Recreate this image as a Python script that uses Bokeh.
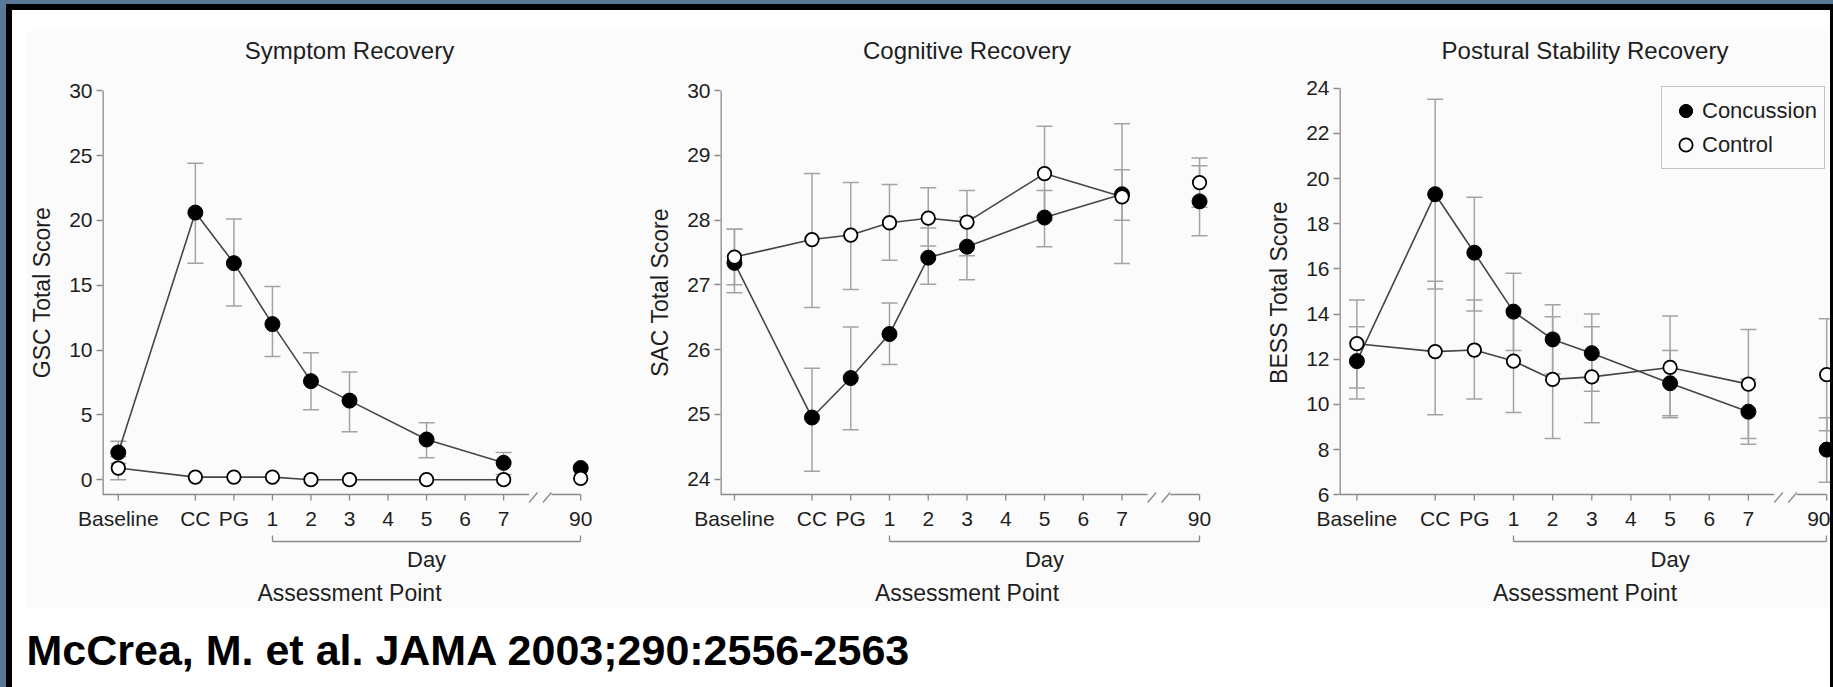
from bokeh.plotting import figure
from bokeh.models import (Range1d, LinearAxis, FixedTicker, Whisker, TeeHead, ColumnDataSource,
                          Legend, LegendItem, Spacer)
from bokeh.layouts import row, column
from bokeh.core.properties import value
from bokeh.embed import file_html
from bokeh.resources import INLINE

# ---------------- data ----------------
tick_labels = ["Baseline", "CC", "PG", "1", "2", "3", "4", "5", "6", "7", "90"]
assessments = ["Baseline", "CC", "PG", "1", "2", "3", "5", "7", "90"]

# Symptom recovery (GSC total score)
gsc_con    = [2.1, 20.6, 16.7, 12.0, 7.6, 6.1, 3.1, 1.3, 0.9]
gsc_con_lo = [1.24, 16.7, 13.4, 9.5, 5.4, 3.7, 1.7, 0.4, None]
gsc_con_hi = [2.96, 24.4, 20.1, 14.9, 9.8, 8.3, 4.4, 2.1, None]
gsc_ctl    = [0.9, 0.2, 0.2, 0.2, 0.0, 0.0, 0.0, 0.0, 0.1]
gsc_ctl_lo = [0.0, None, None, None, None, None, None, None, None]
gsc_ctl_hi = [1.76, None, None, None, None, None, None, None, None]

# Cognitive recovery (SAC total score)
sac_con    = [27.34, 24.95, 25.56, 26.24, 27.42, 27.59, 28.04, 28.40, 28.29]
sac_con_lo = [26.88, 24.12, 24.76, 25.77, 27.01, 27.08, 27.59, 28.00, 27.76]
sac_con_hi = [27.86, 25.71, 26.35, 26.72, 27.88, 28.05, 28.46, 28.78, 28.84]
sac_ctl    = [27.43, 27.70, 27.77, 27.96, 28.03, 27.97, 28.72, 28.36, 28.58]
sac_ctl_lo = [27.00, 26.65, 26.93, 27.38, 27.60, 27.45, 28.00, 27.33, 28.20]
sac_ctl_hi = [27.86, 28.72, 28.58, 28.55, 28.50, 28.46, 29.45, 29.49, 28.96]

# Postural stability recovery (BESS total score)
bess_con    = [11.92, 19.31, 16.72, 14.11, 12.88, 12.27, 10.94, 9.68, 8.00]
bess_con_lo = [10.24, 15.11, 14.14, 12.39, 11.35, 10.59, 9.50, 8.24, 6.56]
bess_con_hi = [13.44, 23.51, 19.17, 15.81, 14.41, 14.00, 12.39, 11.12, 9.41]
bess_ctl    = [12.69, 12.34, 12.41, 11.92, 11.11, 11.22, 11.64, 10.90, 11.32]
bess_ctl_lo = [10.73, 9.54, 10.24, 9.64, 8.49, 9.19, 9.41, 8.49, 8.84]
bess_ctl_hi = [14.63, 15.46, 14.63, 14.20, 13.88, 13.44, 13.92, 13.32, 13.79]

gsc_ticks = [0, 5, 10, 15, 20, 25, 30]
sac_ticks = [24, 25, 26, 27, 28, 29, 30]
bess_ticks = [6, 8, 10, 12, 14, 16, 18, 20, 22, 24]

CITATION = "McCrea, M. et al. JAMA 2003;290:2556-2563"

# ---------------- scale of the broken x axis ----------------
slot_of = {"Baseline": 0, "CC": 2, "PG": 3, "1": 4, "2": 5, "3": 6, "4": 7,
           "5": 8, "6": 9, "7": 10, "90": 12}
tick_pos = [slot_of[t] for t in tick_labels]
first_day, last_day = slot_of["1"], slot_of["90"]

# ---------------- styles ----------------
FONT = "Liberation Sans"
BG = "#fbfbfb"
TXT = "#1e1e1e"
AX = "#8a8a8a"
ERR = "#a3a3a3"
LINE = "#454545"
BLUE = "#587894"
H = 578          # panel canvas height
FRAME_H = 424    # frame height
MB_TOP = 50


def label_axis(text, size, standoff):
    """An axis without line or ticks that only carries a centred label."""
    return LinearAxis(ticker=FixedTicker(ticks=[]), bounds=(tick_pos[0], tick_pos[-1]),
                      axis_line_color=None, major_tick_in=0, major_tick_out=0,
                      major_tick_line_color=None, minor_tick_line_color=None,
                      major_label_standoff=0, axis_label=text,
                      axis_label_standoff=standoff, axis_label_text_font=FONT,
                      axis_label_text_font_size=size, axis_label_text_font_style="normal",
                      axis_label_text_color=TXT)


def make_panel(title, ylabel, yticks, con, con_lo, con_hi, ctl, ctl_lo, ctl_hi, g, legend=None):
    p = figure(width=g["w"], height=H, title=None,
               x_range=Range1d(g["x0"], g["x1"]), y_range=Range1d(g["y0"], g["y1"]),
               x_axis_type=None, y_axis_type=None, toolbar_location=None, output_backend="svg",
               min_border_left=g["ml"], min_border_right=g["mr"],
               min_border_top=MB_TOP, min_border_bottom=H - MB_TOP - FRAME_H,
               background_fill_color=BG, border_fill_color=BG, outline_line_color=None)
    ppy = (g["y1"] - g["y0"]) / FRAME_H
    y_line = g["y0"] + 10 * ppy

    # panel title (centred over Baseline..90)
    p.add_layout(label_axis(title, "24px", 17), "above")

    # y axis (ticks + labels); its line drawn below as a glyph
    ya = LinearAxis(ticker=FixedTicker(ticks=yticks), bounds=(yticks[0], yticks[-1]),
                    axis_line_color=None, major_tick_out=6, major_tick_in=0,
                    major_tick_line_color=AX, major_tick_line_width=1.3,
                    minor_tick_line_color=None, major_label_standoff=4,
                    major_label_text_font=FONT, major_label_text_font_size="21px",
                    major_label_text_color=TXT,
                    axis_label=ylabel, axis_label_standoff=11, axis_label_text_font=FONT,
                    axis_label_text_font_size="23px", axis_label_text_font_style="normal",
                    axis_label_text_color=TXT)
    p.add_layout(ya, "left")

    # x axis tick labels
    xa = LinearAxis(ticker=FixedTicker(ticks=tick_pos),
                    major_label_overrides={pos: lab for pos, lab in zip(tick_pos, tick_labels)},
                    axis_line_color=None, major_tick_out=0, major_tick_in=0,
                    major_tick_line_color=None, minor_tick_line_color=None,
                    major_label_standoff=2, major_label_text_font=FONT,
                    major_label_text_font_size="21px", major_label_text_color=TXT,
                    axis_label=" ", axis_label_text_font_size="4px", axis_label_standoff=1)
    p.add_layout(xa, "below")

    # "Day" bracket
    mid = (first_day + last_day) / 2
    da = LinearAxis(ticker=FixedTicker(ticks=[mid], minor_ticks=[first_day, last_day]),
                    bounds=(first_day, last_day), major_label_overrides={mid: "Day"},
                    axis_line_color=AX, axis_line_width=1.3,
                    major_tick_in=0, major_tick_out=0, major_tick_line_color=None,
                    minor_tick_in=6, minor_tick_out=0, minor_tick_line_color=AX,
                    minor_tick_line_width=1.3, major_label_standoff=5,
                    major_label_text_font=FONT, major_label_text_font_size="22px",
                    major_label_text_color=TXT)
    p.add_layout(da, "below")

    # "Assessment Point"
    p.add_layout(label_axis("Assessment Point", "23px", 5), "below")

    # axis lines, ticks and the break marks
    b1, s1a, s1b, s2a, s2b = 10.66, 10.66, 10.88, 11.02, 11.24
    p.segment(x0=[g["x0"]], y0=[y_line], x1=[g["x0"]], y1=[yticks[-1]],
              line_color=AX, line_width=2.6)
    p.segment(x0=[g["x0"], s2b], y0=[y_line, y_line], x1=[b1, tick_pos[-1]], y1=[y_line, y_line],
              line_color=AX, line_width=1.3)
    p.segment(x0=tick_pos, y0=[y_line] * len(tick_pos), x1=tick_pos,
              y1=[y_line - 6 * ppy] * len(tick_pos), line_color=AX, line_width=1.3)
    p.segment(x0=[s1a, s2a], y0=[y_line - 8 * ppy] * 2, x1=[s1b, s2b], y1=[y_line + 2 * ppy] * 2,
              line_color=AX, line_width=1.3)

    xs = [slot_of[a] for a in assessments]

    # error bars
    for lo, hi in ((con_lo, con_hi), (ctl_lo, ctl_hi)):
        idx = [i for i in range(len(xs)) if lo[i] is not None]
        if not idx:
            continue
        src = ColumnDataSource(dict(x=[xs[i] for i in idx], lo=[lo[i] for i in idx],
                                    hi=[hi[i] for i in idx]))
        w = Whisker(source=src, base="x", lower="lo", upper="hi", dimension="height",
                    line_color=ERR, line_width=1.5, level="underlay",
                    upper_head=TeeHead(size=16, line_color=ERR, line_width=1.5),
                    lower_head=TeeHead(size=16, line_color=ERR, line_width=1.5))
        p.add_layout(w)

    # lines (not across the axis break)
    p.line(xs[:-1], con[:-1], line_color=LINE, line_width=1.6)
    p.line(xs[:-1], ctl[:-1], line_color=LINE, line_width=1.6)

    r_con = p.scatter(xs, con, size=15, fill_color="black", line_color="black", line_width=1)
    r_ctl = p.scatter(xs, ctl, size=13.5, fill_color="white", line_color="black", line_width=1.8)

    if legend is not None:
        lg = Legend(items=[LegendItem(label="Concussion", renderers=[r_con]),
                           LegendItem(label="Control", renderers=[r_ctl])],
                    location=legend, glyph_width=33, glyph_height=33, label_standoff=0,
                    padding=7, spacing=1, margin=0, border_line_color="#8c8c8c",
                    border_line_width=1, background_fill_color=BG, background_fill_alpha=1,
                    label_text_font=FONT, label_text_font_size="22px", label_text_color=TXT)
        p.add_layout(lg)
    return p


g1 = dict(w=594, ml=73, mr=24, x0=-0.41, x1=12.41, y0=-1.913, y1=30.787)
g2 = dict(w=605, ml=100, mr=12, x0=-0.36, x1=12.36, y0=23.606, y1=30.158)
g3 = dict(w=605, ml=114, mr=0, x0=-0.444, x1=12.097, y0=5.570, y1=24.345)

p1 = make_panel("Symptom Recovery", "GSC Total Score", gsc_ticks,
                gsc_con, gsc_con_lo, gsc_con_hi, gsc_ctl, gsc_ctl_lo, gsc_ctl_hi, g1)
p2 = make_panel("Cognitive Recovery", "SAC Total Score", sac_ticks,
                sac_con, sac_con_lo, sac_con_hi, sac_ctl, sac_ctl_lo, sac_ctl_hi, g2)
p3 = make_panel("Postural Stability Recovery", "BESS Total Score", bess_ticks,
                bess_con, bess_con_lo, bess_con_hi, bess_ctl, bess_ctl_lo, bess_ctl_hi, g3,
                legend=(322, 335))

cite = figure(width=1818, height=79, x_range=Range1d(0, 1818), y_range=Range1d(79, 0),
              x_axis_type=None, y_axis_type=None, toolbar_location=None, output_backend="svg",
              min_border=0, outline_line_color=None, title=None,
              background_fill_color="white", border_fill_color="white")
cite.text(x=[14], y=[41], text=[CITATION], text_font=value(FONT), text_font_size="43px",
          text_font_style="bold", text_color="black", text_baseline="middle",
          text_align="left")


def box(w, h, color):
    return Spacer(width=w, height=h, styles={"background-color": color})


content = column(box(1818, 20, "white"),
                 row(box(14, H, "white"), p1, p2, p3, spacing=0),
                 cite, spacing=0)
root = column(box(1833, 4, BLUE),
              row(box(6, 683, BLUE),
                  column(box(1827, 6, "black"),
                         row(box(6, 677, "black"), content, box(3, 677, "black"), spacing=0),
                         spacing=0),
                  spacing=0),
              spacing=0)

open("out.html", "w").write(file_html(root, INLINE))
